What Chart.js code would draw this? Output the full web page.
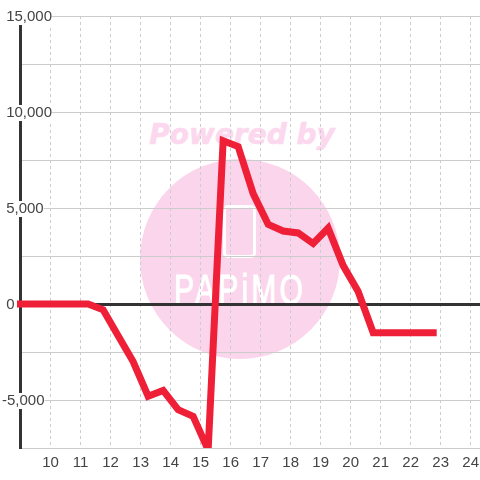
<!DOCTYPE html>
<html>
<head>
<meta charset="utf-8">
<style>
  html, body { margin: 0; padding: 0; background: #fff; }
  #wrap { position: relative; width: 480px; height: 480px; overflow: hidden; }
  #wrap > * { position: absolute; }
  #circle { left: 140px; top: 159px; width: 200px; height: 200px; border-radius: 50%; background: #fbd5ec; }
  #powered { left: 0; width: 484px; top: 118px; text-align: center; font: italic bold 28px "DejaVu Sans"; color: #fcd8ee; -webkit-text-stroke: 0.6px #fcd8ee; }
  #phone { left: 223px; top: 205px; width: 27px; height: 47px; border: 3px solid #fff; border-radius: 5px; }
  #brand { left: 0; width: 480px; top: 265px; text-align: center; font: 43px "Liberation Sans"; letter-spacing: 4.5px; transform: scaleX(0.7); color: #fff; -webkit-text-stroke: 1px #fff; }
  canvas { left: 0; top: 0; }
</style>
<script src="https://cdn.jsdelivr.net/npm/chart.js@4"></script>
</head>
<body>
<div id="wrap">
  <div id="circle"></div>
  <div id="powered">Powered by</div>
  <div id="phone"></div>
  <div id="brand">PAPiMO</div>
  <canvas id="chart" width="480" height="480"></canvas>
</div>
<script>
const hours = [8.75, 9.25, 9.75, 10.25, 10.75, 11.25, 11.75, 12.25, 12.75, 13.25, 13.75, 14.25, 14.75, 15.25, 15.75, 16.25, 16.75, 17.25, 17.75, 18.25, 18.75, 19.25, 19.75, 20.25, 20.75, 21.25, 21.75, 22.25, 22.75];
const values = [0, 0, 0, 0, 0, 0, -300, -1650, -3000, -4800, -4500, -5500, -5850, -7600, 8500, 8200, 5750, 4150, 3800, 3700, 3150, 3950, 2000, 650, -1500, -1500, -1500, -1500, -1500];
const hourTicks = [10, 11, 12, 13, 14, 15, 16, 17, 18, 19, 20, 21, 22, 23, 24];

const labeled = (v) => v % 5000 === 0;

new Chart(document.getElementById('chart'), {
  type: 'line',
  data: {
    datasets: [{
      data: hours.map((h, i) => ({ x: h, y: values[i] })),
      borderColor: '#ee1f36',
      borderWidth: 7,
      borderJoinStyle: 'miter',
      borderCapStyle: 'square',
      pointRadius: 0,
      tension: 0,
      clip: { left: 3, top: 0, right: 0, bottom: 0 }
    }]
  },
  options: {
    responsive: false,
    animation: false,
    layout: { padding: { left: 2, top: 16, right: 0, bottom: 0 } },
    plugins: { legend: { display: false }, tooltip: { enabled: false } },
    scales: {
      x: {
        type: 'linear',
        min: 8.98,
        max: 24.31,
        afterBuildTicks: (scale) => { scale.ticks = hourTicks.map((h) => ({ value: h })); },
        afterFit: (scale) => { scale.height = 32; scale.paddingLeft = 0; scale.paddingRight = 0; },
        ticks: {
          autoSkip: false,
          maxRotation: 0,
          padding: 6,
          color: '#444',
          font: { family: '"Liberation Sans"', size: 15 }
        },
        grid: { color: '#ccc', lineWidth: 1, drawTicks: false },
        border: { display: false, dash: [3, 3] }
      },
      y: {
        min: -7500,
        max: 15000,
        afterFit: (scale) => { scale.width = 18; },
        ticks: {
          stepSize: 2500,
          mirror: true,
          padding: -18,
          labelOffset: 1,
          color: '#444',
          font: { family: '"Liberation Sans"', size: 15, lineHeight: 1.07 },
          showLabelBackdrop: (ctx) => labeled(ctx.tick.value),
          backdropColor: '#fff',
          backdropPadding: 0,
          callback: (v) => {
            if (!labeled(v)) return '';
            return v < 0 ? v.toLocaleString('en-US') : ' ' + v.toLocaleString('en-US');
          }
        },
        grid: {
          color: (ctx) => ctx.tick.value === 0 ? '#333' : '#ccc',
          lineWidth: (ctx) => ctx.tick.value === 0 ? 3 : 1,
          drawTicks: false
        },
        border: { display: true, color: '#333', width: 3 }
      }
    }
  }
});
</script>
</body>
</html>
